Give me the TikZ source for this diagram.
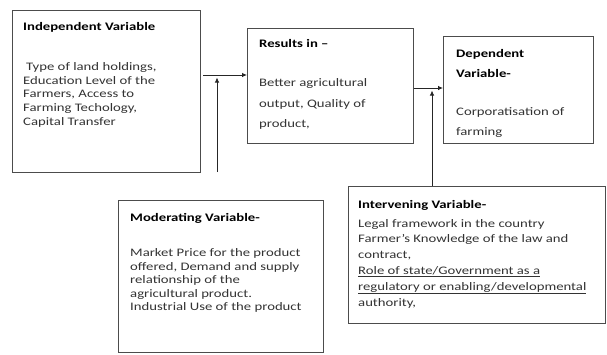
\documentclass[tikz,border=0pt]{standalone}
\usepackage{fontspec}
\setmainfont{Carlito}[FakeStretch=1.28]
\usetikzlibrary{arrows.meta}
\begin{document}
\begin{tikzpicture}[x=1pt,y=-1pt,
  box/.style={draw=black!70, line width=0.8pt, rectangle, inner sep=0pt, anchor=north west},
  txt/.style={anchor=north west, inner sep=0pt, align=left, text=black!80, font=\fontsize{11.5}{13.6}\selectfont},
  arr/.style={draw=black!85, line width=0.8pt, -{Latex[length=5pt,width=4.5pt]}},
  ln/.style={draw=black!85, line width=0.8pt}]
\useasboundingbox (0,0) rectangle (607,354);
% boxes
\node[box, minimum width=188, minimum height=162] (ind) at (12,10) {};
\node[box, minimum width=166, minimum height=115] (res) at (247,28) {};
\node[box, minimum width=150, minimum height=107] (dep) at (443,36) {};
\node[box, minimum width=205, minimum height=152] (mod) at (118,200) {};
\node[box, minimum width=257, minimum height=137] (int) at (348,186) {};
% texts
\node[txt, font=\fontsize{11.5}{13.9}\selectfont] (indt) at (23,22) {\textbf{\color{black}Independent Variable}\\[26pt]
 \hspace*{3pt}Type of land holdings,\\
 Education Level of the\\
 Farmers, Access to\\
 Farming Techology,\\
 Capital Transfer};
\node[txt, font=\fontsize{11.5}{20.5}\selectfont] (rest) at (259,39) {\textbf{\color{black}Results in –}\\[19pt]
 Better agricultural\\
 output, Quality of\\
 product,};
\node[txt, font=\fontsize{11.5}{20.5}\selectfont] (dept) at (456,49) {\textbf{\color{black}Dependent}\\
 \textbf{\color{black}Variable-}\\[17pt]
 Corporatisation of\\
 farming};
\node[txt, font=\fontsize{11.5}{13.5}\selectfont] (modt) at (130,213) {\textbf{\color{black}Moderating Variable-}\\[22pt]
 Market Price for the product\\
 offered, Demand and supply\\
 relationship of the\\
 agricultural product.\\
 Industrial Use of the product};
\node[txt, font=\fontsize{11.5}{15.8}\selectfont] (intt) at (358,200) {\textbf{\color{black}Intervening Variable-}\\[3pt]
 Legal framework in the country\\
 Farmer's Knowledge of the law and\\
 contract,\\
 \underline{Role of state/Government as a}\\
 \underline{regulatory or enabling/developmental}\\
 authority,};
% connectors
\coordinate (a1s) at (203,75);
\coordinate (m1s) at (217,172);
\coordinate (m1e) at (217,77.5);
\draw[arr] (a1s) -- (res.west |- a1s);
\draw[arr] (m1s) -- (m1e);
\coordinate (a2y) at (0,88);
\coordinate (ive) at (432,90.5);
\draw[arr] (res.east |- a2y) -- (dep.west |- a2y);
\draw[arr] (int.north -| ive) -- (ive);
\end{tikzpicture}
\end{document}
